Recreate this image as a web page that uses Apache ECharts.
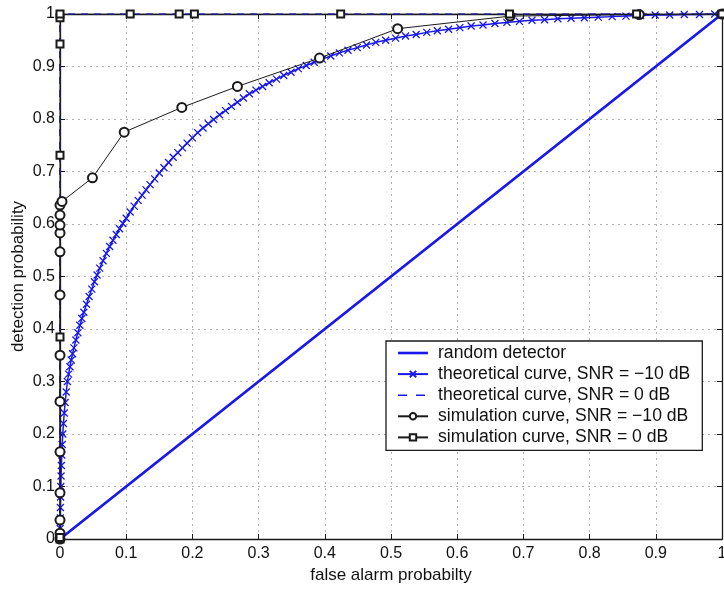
<!DOCTYPE html>
<html>
<head>
<meta charset="utf-8">
<script src="https://cdn.jsdelivr.net/npm/echarts@6/dist/echarts.min.js"></script>
<style>
  html, body { margin: 0; padding: 0; background: #fff; }
  #chart { width: 724px; height: 590px; }
</style>
</head>
<body>
<div id="chart"></div>
<script>
// Axis ticks (both axes share the 0..1 probability range)
const tickValues = [0, 0.1, 0.2, 0.3, 0.4, 0.5, 0.6, 0.7, 0.8, 0.9, 1];

// Random detector: the chance diagonal
const randomDetector = [[0, 0], [1, 1]];

// Theoretical ROC, SNR = -10 dB: [false alarm probability, detection probability]
const theoryLowSnr = [
  [0, 0], [0.0002, 0.02], [0.0004, 0.04], [0.0006, 0.06], [0.0009, 0.08],
  [0.0012, 0.10], [0.0016, 0.12], [0.0021, 0.14], [0.0027, 0.16], [0.0034, 0.18],
  [0.0042, 0.20], [0.0052, 0.22], [0.0064, 0.24], [0.0078, 0.26], [0.0094, 0.28],
  [0.0112, 0.300], [0.013, 0.314], [0.015, 0.328], [0.017, 0.341], [0.019, 0.353],
  [0.021, 0.364], [0.024, 0.379], [0.027, 0.393], [0.030, 0.407], [0.033, 0.420],
  [0.036, 0.432], [0.040, 0.447], [0.044, 0.462], [0.048, 0.476], [0.052, 0.490],
  [0.056, 0.503], [0.060, 0.516], [0.065, 0.530], [0.070, 0.544], [0.075, 0.557],
  [0.080, 0.569], [0.085, 0.580], [0.090, 0.591], [0.095, 0.601], [0.100, 0.611],
  [0.106, 0.623], [0.112, 0.634], [0.118, 0.645], [0.124, 0.655], [0.130, 0.665],
  [0.136, 0.675], [0.143, 0.686], [0.150, 0.697], [0.157, 0.707], [0.164, 0.717],
  [0.171, 0.727], [0.178, 0.736], [0.185, 0.745], [0.192, 0.754], [0.200, 0.764],
  [0.208, 0.774], [0.216, 0.783], [0.224, 0.791], [0.232, 0.799], [0.241, 0.808],
  [0.250, 0.816], [0.259, 0.824], [0.268, 0.832], [0.277, 0.840], [0.286, 0.848],
  [0.296, 0.855], [0.306, 0.862], [0.316, 0.869], [0.327, 0.876], [0.338, 0.883],
  [0.349, 0.889], [0.360, 0.896], [0.372, 0.902], [0.384, 0.908], [0.396, 0.914],
  [0.409, 0.920], [0.422, 0.926], [0.435, 0.931], [0.449, 0.936], [0.463, 0.941],
  [0.477, 0.946], [0.492, 0.950], [0.507, 0.954], [0.522, 0.958], [0.538, 0.961],
  [0.554, 0.965], [0.570, 0.968], [0.587, 0.971], [0.604, 0.974], [0.621, 0.977],
  [0.639, 0.979], [0.657, 0.982], [0.675, 0.984], [0.694, 0.986], [0.713, 0.988],
  [0.732, 0.989], [0.752, 0.991], [0.772, 0.992], [0.792, 0.993], [0.813, 0.994],
  [0.834, 0.995], [0.855, 0.996], [0.877, 0.997], [0.899, 0.998], [0.921, 0.998],
  [0.943, 0.999], [0.966, 0.999], [0.989, 1.000], [1.000, 1.000]
];

// Theoretical ROC, SNR = 0 dB
const theoryHighSnr = [[0, 0], [0, 1], [1, 1]];

// Simulated ROC, SNR = -10 dB
const simLowSnr = [
  [0, 0], [0, 0.011], [0, 0.036], [0, 0.088], [0, 0.166], [0, 0.262],
  [0, 0.350], [0, 0.465], [0, 0.547], [0, 0.583], [0, 0.598], [0, 0.617],
  [0, 0.636], [0.003, 0.643], [0.049, 0.688], [0.097, 0.775], [0.184, 0.822],
  [0.268, 0.862], [0.392, 0.916], [0.510, 0.972], [0.680, 0.996],
  [0.875, 0.999], [1, 1]
];

// Simulated ROC, SNR = 0 dB
const simHighSnr = [
  [0, 0], [0, 0.003], [0, 0.385], [0, 0.731], [0, 0.943], [0, 0.993], [0, 1],
  [0.106, 1], [0.180, 1], [0.203, 1], [0.424, 1], [0.679, 1], [0.871, 1], [1, 1]
];

const seriesNames = [
  'random detector',
  'theoretical curve, SNR = \u221210 dB',
  'theoretical curve, SNR = 0 dB',
  'simulation curve, SNR = \u221210 dB',
  'simulation curve, SNR = 0 dB'
];

const BLUE = '#1818e8';
const BLACK = '#1a1a1a';
const FONT = 'Liberation Sans, Arial, Helvetica, sans-serif';

const chart = echarts.init(document.getElementById('chart'), null, { renderer: 'canvas' });

const gridLine = { show: true, lineStyle: { color: '#b0b0b0', type: [2, 4], width: 1 } };
const axisLine = { show: true, onZero: false, lineStyle: { color: BLACK, width: 1.3 } };
const inTick = { show: true, inside: true, length: 5, lineStyle: { color: BLACK, width: 1 } };

// Legend keys for the plain-line entries: solid bar and two dashes
const solidKey = 'path://M0,0H30V2.6H0Z';
const dashedKey = 'path://M0,0H9V1.6H0Z M18,0H27V1.6H18Z M29.9,0H30V1.6H29.9Z';

chart.setOption({
  animation: false,
  backgroundColor: '#fff',
  textStyle: { fontFamily: FONT },
  grid: { left: 60, right: 2, top: 14, bottom: 51, containLabel: false, outerBoundsMode: 'none' },
  legend: {
    orient: 'vertical',
    left: 386,
    top: 341,
    data: [
      { name: seriesNames[0], icon: solidKey },
      { name: seriesNames[1] },
      { name: seriesNames[2], icon: dashedKey },
      { name: seriesNames[3] },
      { name: seriesNames[4] }
    ],
    itemWidth: 30,
    itemHeight: 8,
    itemGap: 3.1,
    padding: [3, 12, 4, 11],
    backgroundColor: '#fff',
    borderColor: BLACK,
    borderWidth: 1.3,
    borderRadius: 0,
    textStyle: { fontFamily: FONT, fontSize: 17.6, color: '#111', padding: [0, 0, 0, 5] }
  },
  xAxis: [
    {
      type: 'value', min: 0, max: 1, interval: 0.1,
      name: 'false alarm probabilty', nameLocation: 'middle', nameGap: 28,
      nameMoveOverlap: false,
      nameTextStyle: { fontFamily: FONT, fontSize: 17, color: '#111' },
      axisLine: axisLine, axisTick: inTick, splitLine: gridLine,
      axisLabel: { fontFamily: FONT, fontSize: 16, color: '#111', margin: 7 }
    },
    {
      type: 'value', min: 0, max: 1, interval: 0.1, position: 'top',
      axisLine: axisLine, axisTick: inTick, splitLine: { show: false },
      axisLabel: { show: false }
    }
  ],
  yAxis: [
    {
      type: 'value', min: 0, max: 1, interval: 0.1,
      name: 'detection probability', nameLocation: 'middle', nameGap: 33,
      nameMoveOverlap: false,
      nameTextStyle: { fontFamily: FONT, fontSize: 17, color: '#111' },
      axisLine: axisLine, axisTick: inTick, splitLine: gridLine,
      axisLabel: { fontFamily: FONT, fontSize: 16, color: '#111', margin: 5 }
    },
    {
      type: 'value', min: 0, max: 1, interval: 0.1, position: 'right',
      axisLine: axisLine, axisTick: inTick, splitLine: { show: false },
      axisLabel: { show: false }
    }
  ],
  series: [
    {
      name: seriesNames[0], type: 'line', data: randomDetector,
      symbol: 'none', color: BLUE,
      itemStyle: { color: BLUE },
      lineStyle: { color: BLUE, width: 2.8 }, z: 3
    },
    {
      name: seriesNames[1], type: 'line', data: theoryLowSnr,
      symbol: 'path://M0,0L10,10M10,0L0,10', symbolSize: 7,
      color: BLUE,
      itemStyle: { color: 'rgba(0,0,0,0)', borderColor: BLUE, borderWidth: 1.3 },
      lineStyle: { color: BLUE, width: 1.5 }, z: 4
    },
    {
      name: seriesNames[2], type: 'line', data: theoryHighSnr,
      symbol: 'none', color: BLUE,
      itemStyle: { color: BLUE },
      lineStyle: { color: BLUE, width: 1.6, type: [7, 6] }, z: 4
    },
    {
      name: seriesNames[3], type: 'line', data: simLowSnr,
      symbol: 'emptyCircle', symbolSize: 9, color: BLACK,
      itemStyle: { color: BLACK, borderColor: BLACK, borderWidth: 1 },
      lineStyle: { color: BLACK, width: 1 }, z: 5
    },
    {
      name: seriesNames[4], type: 'line', data: simHighSnr,
      symbol: 'emptyRect', symbolSize: 7, color: BLACK,
      itemStyle: { color: BLACK, borderColor: BLACK, borderWidth: 1 },
      lineStyle: { color: BLACK, width: 1 }, z: 5
    }
  ]
});
</script>
</body>
</html>
